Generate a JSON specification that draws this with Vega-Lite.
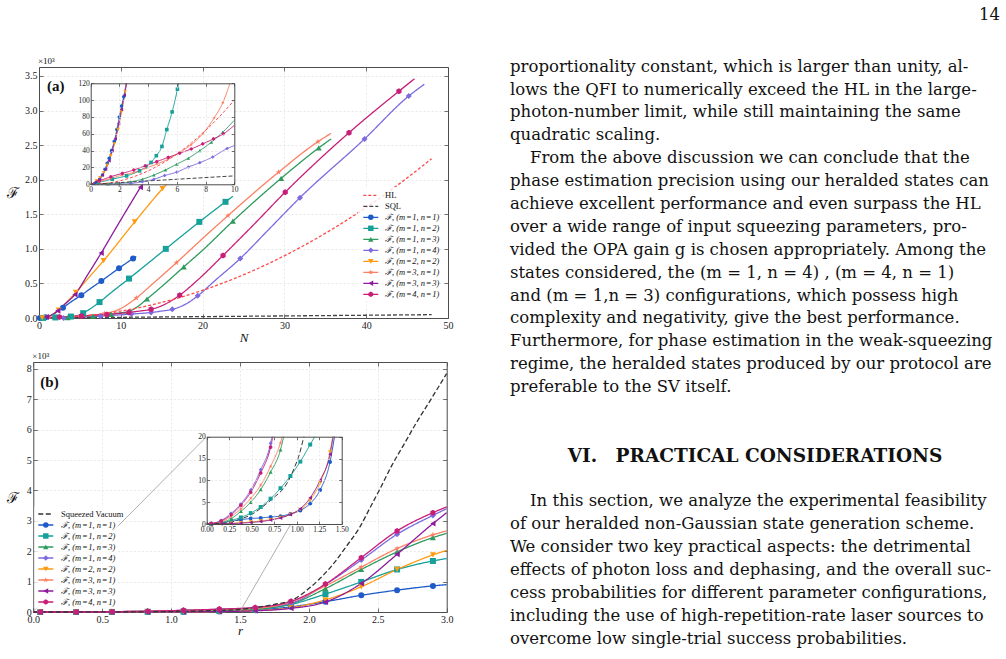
{
"$schema":"https://vega.github.io/schema/vega-lite/v6.json",
"width":1006,"height":659,"autosize":{"type":"none"},"padding":0,"background":"white",
"config":{"view":{"stroke":null},
"axis":{"labelFont":"Liberation Serif","labelFontSize":10,"labelColor":"#222","domainColor":"#4d4d4d","domainWidth":1,"tickColor":"#4d4d4d","tickWidth":0.8,"gridColor":"#e0e0e0","gridDash":[2,2],"gridWidth":0.7,"labelFlush":false,"labelOverlap":false,"labelBound":false,"titleFont":"Liberation Serif","titleFontWeight":"normal","titleColor":"#111"},
"text":{"font":"Liberation Serif","color":"#111"}},
"datasets":{
"aMain":[
{"s":"1,1","x":0,"y":0,"m":0},{"s":"1,1","x":0.1,"y":0.3,"m":1},{"s":"1,1","x":0.8,"y":11,"m":1},{"s":"1,1","x":1.5,"y":40,"m":0},{"s":"1,1","x":2.93,"y":150,"m":1},{"s":"1,1","x":4,"y":240,"m":0},{"s":"1,1","x":5.17,"y":330,"m":1},{"s":"1,1","x":6.4,"y":435,"m":0},{"s":"1,1","x":7.62,"y":535,"m":1},{"s":"1,1","x":9.78,"y":720,"m":1},{"s":"1,1","x":11.5,"y":860,"m":1},{"s":"1,1","x":11.9,"y":890,"m":0},
{"s":"1,2","x":0,"y":0,"m":0},{"s":"1,2","x":0.5,"y":1,"m":1},{"s":"1,2","x":2,"y":8,"m":1},{"s":"1,2","x":3.9,"y":21,"m":1},{"s":"1,2","x":4.6,"y":34,"m":0},{"s":"1,2","x":5.4,"y":70,"m":1},{"s":"1,2","x":6,"y":113,"m":0},{"s":"1,2","x":6.6,"y":160,"m":0},{"s":"1,2","x":7.4,"y":230,"m":1},{"s":"1,2","x":9,"y":385,"m":0},{"s":"1,2","x":11,"y":570,"m":1},{"s":"1,2","x":15.5,"y":1000,"m":1},{"s":"1,2","x":19.6,"y":1390,"m":1},{"s":"1,2","x":22.8,"y":1680,"m":1},{"s":"1,2","x":23.7,"y":1760,"m":0},
{"s":"1,3","x":0,"y":0,"m":0},{"s":"1,3","x":2,"y":1,"m":0},{"s":"1,3","x":3.5,"y":5,"m":1},{"s":"1,3","x":5,"y":14,"m":0},{"s":"1,3","x":6.6,"y":28,"m":1},{"s":"1,3","x":8,"y":44,"m":0},{"s":"1,3","x":8.8,"y":53,"m":1},{"s":"1,3","x":10,"y":76,"m":0},{"s":"1,3","x":10.9,"y":90,"m":1},{"s":"1,3","x":12,"y":160,"m":0},{"s":"1,3","x":13.2,"y":275,"m":1},{"s":"1,3","x":15,"y":455,"m":0},{"s":"1,3","x":17.7,"y":740,"m":1},{"s":"1,3","x":20,"y":980,"m":0},{"s":"1,3","x":23.7,"y":1400,"m":1},{"s":"1,3","x":29.6,"y":2020,"m":1},{"s":"1,3","x":34.2,"y":2460,"m":1},{"s":"1,3","x":35.7,"y":2590,"m":0},
{"s":"1,4","x":0,"y":0,"m":0},{"s":"1,4","x":3,"y":1,"m":1},{"s":"1,4","x":5,"y":10,"m":0},{"s":"1,4","x":7.5,"y":26,"m":1},{"s":"1,4","x":9.6,"y":43,"m":0},{"s":"1,4","x":11.3,"y":57,"m":1},{"s":"1,4","x":13.7,"y":80,"m":1},{"s":"1,4","x":15,"y":100,"m":0},{"s":"1,4","x":16.3,"y":125,"m":1},{"s":"1,4","x":18,"y":205,"m":0},{"s":"1,4","x":19.4,"y":320,"m":1},{"s":"1,4","x":21.5,"y":540,"m":0},{"s":"1,4","x":24.6,"y":860,"m":1},{"s":"1,4","x":28,"y":1270,"m":0},{"s":"1,4","x":31.9,"y":1740,"m":1},{"s":"1,4","x":39.8,"y":2590,"m":1},{"s":"1,4","x":45.2,"y":3210,"m":1},{"s":"1,4","x":47.1,"y":3380,"m":0},
{"s":"2,2","x":0,"y":0,"m":0},{"s":"2,2","x":0.4,"y":4,"m":1},{"s":"2,2","x":1.2,"y":23,"m":0},{"s":"2,2","x":2.4,"y":115,"m":1},{"s":"2,2","x":3.4,"y":230,"m":0},{"s":"2,2","x":4.5,"y":370,"m":1},{"s":"2,2","x":6.2,"y":600,"m":0},{"s":"2,2","x":7.9,"y":830,"m":1},{"s":"2,2","x":11.7,"y":1390,"m":1},{"s":"2,2","x":15.1,"y":1870,"m":1},{"s":"2,2","x":16.5,"y":2050,"m":0},
{"s":"3,1","x":0,"y":0,"m":0},{"s":"3,1","x":1,"y":5,"m":0},{"s":"3,1","x":2,"y":10,"m":0},{"s":"3,1","x":4,"y":20,"m":0},{"s":"3,1","x":5,"y":27,"m":1},{"s":"3,1","x":6,"y":36,"m":0},{"s":"3,1","x":8,"y":65,"m":1},{"s":"3,1","x":9.7,"y":120,"m":0},{"s":"3,1","x":11.9,"y":290,"m":1},{"s":"3,1","x":14,"y":505,"m":0},{"s":"3,1","x":16.8,"y":800,"m":1},{"s":"3,1","x":20,"y":1150,"m":0},{"s":"3,1","x":23.1,"y":1480,"m":1},{"s":"3,1","x":29.3,"y":2110,"m":1},{"s":"3,1","x":34.1,"y":2550,"m":1},{"s":"3,1","x":35.7,"y":2670,"m":0},
{"s":"3,3","x":0,"y":0,"m":0},{"s":"3,3","x":0.9,"y":13,"m":1},{"s":"3,3","x":1.6,"y":48,"m":0},{"s":"3,3","x":2.3,"y":105,"m":1},{"s":"3,3","x":3.2,"y":205,"m":0},{"s":"3,3","x":4.4,"y":340,"m":1},{"s":"3,3","x":6,"y":635,"m":0},{"s":"3,3","x":7.6,"y":940,"m":1},{"s":"3,3","x":10,"y":1420,"m":0},{"s":"3,3","x":12.4,"y":1890,"m":1},{"s":"3,3","x":13.5,"y":2100,"m":0},
{"s":"4,1","x":0,"y":0,"m":0},{"s":"4,1","x":1,"y":7,"m":0},{"s":"4,1","x":2.5,"y":15,"m":1},{"s":"4,1","x":5.2,"y":30,"m":1},{"s":"4,1","x":8.3,"y":52,"m":1},{"s":"4,1","x":11,"y":80,"m":1},{"s":"4,1","x":12.3,"y":100,"m":0},{"s":"4,1","x":13.7,"y":125,"m":1},{"s":"4,1","x":15.5,"y":205,"m":0},{"s":"4,1","x":17.2,"y":330,"m":1},{"s":"4,1","x":19.5,"y":560,"m":0},{"s":"4,1","x":22.5,"y":905,"m":1},{"s":"4,1","x":26,"y":1320,"m":0},{"s":"4,1","x":30.1,"y":1820,"m":1},{"s":"4,1","x":37.9,"y":2680,"m":1},{"s":"4,1","x":44,"y":3280,"m":1},{"s":"4,1","x":45.9,"y":3460,"m":0},
{"s":"HL","x":0,"y":0,"m":0},{"s":"HL","x":4,"y":16,"m":0},{"s":"HL","x":8,"y":64,"m":0},{"s":"HL","x":12,"y":144,"m":0},{"s":"HL","x":16,"y":256,"m":0},{"s":"HL","x":20,"y":400,"m":0},{"s":"HL","x":24,"y":576,"m":0},{"s":"HL","x":28,"y":784,"m":0},{"s":"HL","x":32,"y":1024,"m":0},{"s":"HL","x":36,"y":1296,"m":0},{"s":"HL","x":40,"y":1600,"m":0},{"s":"HL","x":44,"y":1936,"m":0},{"s":"HL","x":48,"y":2304,"m":0},
{"s":"SQL","x":0,"y":0,"m":0},{"s":"SQL","x":48,"y":48,"m":0}
],
"aIns":[
{"s":"1,1","x":0,"y":0,"m":0},{"s":"1,1","x":0.35,"y":1,"m":1},{"s":"1,1","x":0.5,"y":3,"m":1},{"s":"1,1","x":0.63,"y":6,"m":1},{"s":"1,1","x":0.82,"y":11,"m":1},{"s":"1,1","x":1,"y":18,"m":1},{"s":"1,1","x":1.15,"y":25,"m":1},{"s":"1,1","x":1.29,"y":31,"m":1},{"s":"1,1","x":1.45,"y":40,"m":1},{"s":"1,1","x":1.64,"y":51,"m":1},{"s":"1,1","x":1.82,"y":65,"m":1},{"s":"1,1","x":1.99,"y":80,"m":1},{"s":"1,1","x":2.15,"y":93,"m":1},{"s":"1,1","x":2.3,"y":104,"m":1},{"s":"1,1","x":2.47,"y":120,"m":0},
{"s":"1,2","x":0,"y":0,"m":0},{"s":"1,2","x":0.5,"y":2,"m":1},{"s":"1,2","x":1,"y":4,"m":0},{"s":"1,2","x":1.5,"y":6,"m":1},{"s":"1,2","x":2,"y":8,"m":0},{"s":"1,2","x":2.5,"y":10,"m":1},{"s":"1,2","x":3,"y":13,"m":0},{"s":"1,2","x":3.4,"y":16,"m":1},{"s":"1,2","x":3.85,"y":21,"m":1},{"s":"1,2","x":4.2,"y":26,"m":1},{"s":"1,2","x":4.57,"y":34,"m":1},{"s":"1,2","x":4.96,"y":45,"m":1},{"s":"1,2","x":5.3,"y":65,"m":1},{"s":"1,2","x":5.67,"y":86,"m":1},{"s":"1,2","x":6.04,"y":113,"m":1},{"s":"1,2","x":6.12,"y":120,"m":0},
{"s":"1,3","x":0,"y":0,"m":0},{"s":"1,3","x":1.2,"y":0.3,"m":1},{"s":"1,3","x":2,"y":1,"m":1},{"s":"1,3","x":2.8,"y":3,"m":1},{"s":"1,3","x":3.6,"y":6,"m":1},{"s":"1,3","x":4.4,"y":11,"m":1},{"s":"1,3","x":5.2,"y":17,"m":1},{"s":"1,3","x":6,"y":24,"m":1},{"s":"1,3","x":6.8,"y":31,"m":1},{"s":"1,3","x":7.6,"y":40,"m":1},{"s":"1,3","x":8.4,"y":50,"m":1},{"s":"1,3","x":9.2,"y":62,"m":1},{"s":"1,3","x":10,"y":76,"m":0},
{"s":"1,4","x":0,"y":0,"m":0},{"s":"1,4","x":2,"y":0,"m":1},{"s":"1,4","x":2.8,"y":1,"m":1},{"s":"1,4","x":3.6,"y":3,"m":1},{"s":"1,4","x":4.4,"y":6,"m":1},{"s":"1,4","x":5.15,"y":10.4,"m":1},{"s":"1,4","x":6,"y":14.5,"m":1},{"s":"1,4","x":6.8,"y":20.5,"m":1},{"s":"1,4","x":7.6,"y":25.7,"m":1},{"s":"1,4","x":8.5,"y":32.5,"m":1},{"s":"1,4","x":9.5,"y":42.5,"m":1},{"s":"1,4","x":10,"y":46,"m":0},
{"s":"2,2","x":0,"y":0,"m":0},{"s":"2,2","x":0.4,"y":4,"m":1},{"s":"2,2","x":0.65,"y":8,"m":1},{"s":"2,2","x":0.9,"y":14,"m":1},{"s":"2,2","x":1.15,"y":23,"m":1},{"s":"2,2","x":1.4,"y":34,"m":1},{"s":"2,2","x":1.65,"y":48,"m":1},{"s":"2,2","x":1.9,"y":65,"m":1},{"s":"2,2","x":2.15,"y":86,"m":1},{"s":"2,2","x":2.4,"y":110,"m":1},{"s":"2,2","x":2.48,"y":120,"m":0},
{"s":"3,1","x":0,"y":0,"m":0},{"s":"3,1","x":0.6,"y":3,"m":1},{"s":"3,1","x":1.4,"y":7,"m":1},{"s":"3,1","x":2.2,"y":11,"m":1},{"s":"3,1","x":3,"y":14,"m":1},{"s":"3,1","x":3.8,"y":19,"m":1},{"s":"3,1","x":4.6,"y":24,"m":1},{"s":"3,1","x":5.4,"y":30,"m":1},{"s":"3,1","x":6.2,"y":38,"m":1},{"s":"3,1","x":7,"y":47,"m":1},{"s":"3,1","x":7.8,"y":60,"m":1},{"s":"3,1","x":8.6,"y":79,"m":1},{"s":"3,1","x":9.2,"y":97,"m":1},{"s":"3,1","x":9.7,"y":120,"m":0},
{"s":"3,3","x":0,"y":0,"m":0},{"s":"3,3","x":0.35,"y":3,"m":1},{"s":"3,3","x":0.6,"y":6,"m":1},{"s":"3,3","x":0.82,"y":11,"m":1},{"s":"3,3","x":1.05,"y":18,"m":1},{"s":"3,3","x":1.29,"y":28,"m":1},{"s":"3,3","x":1.5,"y":40,"m":1},{"s":"3,3","x":1.72,"y":54,"m":1},{"s":"3,3","x":1.95,"y":72,"m":1},{"s":"3,3","x":2.15,"y":89,"m":1},{"s":"3,3","x":2.35,"y":106,"m":1},{"s":"3,3","x":2.5,"y":120,"m":0},
{"s":"4,1","x":0,"y":0,"m":0},{"s":"4,1","x":0.6,"y":4,"m":1},{"s":"4,1","x":1.4,"y":9,"m":1},{"s":"4,1","x":2.2,"y":13,"m":1},{"s":"4,1","x":3,"y":17,"m":1},{"s":"4,1","x":3.8,"y":22,"m":1},{"s":"4,1","x":4.6,"y":27,"m":1},{"s":"4,1","x":5.4,"y":32,"m":1},{"s":"4,1","x":6.2,"y":37,"m":1},{"s":"4,1","x":7,"y":42,"m":1},{"s":"4,1","x":7.8,"y":48,"m":1},{"s":"4,1","x":8.55,"y":54,"m":1},{"s":"4,1","x":9.25,"y":60,"m":1},{"s":"4,1","x":10,"y":70,"m":0},
{"s":"HL","x":0,"y":0,"m":0},{"s":"HL","x":1,"y":1,"m":0},{"s":"HL","x":2,"y":4,"m":0},{"s":"HL","x":3,"y":9,"m":0},{"s":"HL","x":4,"y":16,"m":0},{"s":"HL","x":5,"y":25,"m":0},{"s":"HL","x":6,"y":36,"m":0},{"s":"HL","x":7,"y":49,"m":0},{"s":"HL","x":8,"y":64,"m":0},{"s":"HL","x":9,"y":81,"m":0},{"s":"HL","x":10,"y":100,"m":0},
{"s":"SQL","x":0,"y":0,"m":0},{"s":"SQL","x":10,"y":10,"m":0}
],
"bMain":[
{"s":"1,1","x":0,"y":0,"m":0},{"s":"1,1","x":0.05,"y":0,"m":1},{"s":"1,1","x":0.31,"y":0.5,"m":1},{"s":"1,1","x":0.57,"y":1.2,"m":1},{"s":"1,1","x":0.83,"y":1.75,"m":1},{"s":"1,1","x":1.09,"y":3.6,"m":1},{"s":"1,1","x":1.35,"y":13,"m":1},{"s":"1,1","x":1.61,"y":60,"m":1},{"s":"1,1","x":1.87,"y":170,"m":1},{"s":"1,1","x":2.12,"y":340,"m":1},{"s":"1,1","x":2.38,"y":550,"m":1},{"s":"1,1","x":2.64,"y":720,"m":1},{"s":"1,1","x":2.9,"y":860,"m":1},{"s":"1,1","x":3,"y":900,"m":0},
{"s":"1,2","x":0,"y":0,"m":0},{"s":"1,2","x":0.05,"y":0.05,"m":1},{"s":"1,2","x":0.31,"y":0.9,"m":1},{"s":"1,2","x":0.57,"y":3.5,"m":1},{"s":"1,2","x":0.83,"y":8.3,"m":1},{"s":"1,2","x":1.09,"y":15.5,"m":1},{"s":"1,2","x":1.35,"y":35,"m":1},{"s":"1,2","x":1.61,"y":80,"m":1},{"s":"1,2","x":1.87,"y":250,"m":1},{"s":"1,2","x":2.12,"y":590,"m":1},{"s":"1,2","x":2.38,"y":990,"m":1},{"s":"1,2","x":2.64,"y":1400,"m":1},{"s":"1,2","x":2.9,"y":1680,"m":1},{"s":"1,2","x":3,"y":1760,"m":0},
{"s":"1,3","x":0,"y":0,"m":0},{"s":"1,3","x":0.05,"y":0.05,"m":1},{"s":"1,3","x":0.31,"y":1.8,"m":1},{"s":"1,3","x":0.57,"y":9,"m":1},{"s":"1,3","x":0.83,"y":22,"m":1},{"s":"1,3","x":1.09,"y":45,"m":1},{"s":"1,3","x":1.35,"y":75,"m":1},{"s":"1,3","x":1.61,"y":110,"m":1},{"s":"1,3","x":1.87,"y":270,"m":1},{"s":"1,3","x":2.12,"y":770,"m":1},{"s":"1,3","x":2.38,"y":1400,"m":1},{"s":"1,3","x":2.64,"y":1980,"m":1},{"s":"1,3","x":2.9,"y":2450,"m":1},{"s":"1,3","x":3,"y":2590,"m":0},
{"s":"1,4","x":0,"y":0,"m":0},{"s":"1,4","x":0.05,"y":0.1,"m":1},{"s":"1,4","x":0.31,"y":3.2,"m":1},{"s":"1,4","x":0.57,"y":12,"m":1},{"s":"1,4","x":0.83,"y":28,"m":1},{"s":"1,4","x":1.09,"y":55,"m":1},{"s":"1,4","x":1.35,"y":90,"m":1},{"s":"1,4","x":1.61,"y":140,"m":1},{"s":"1,4","x":1.87,"y":290,"m":1},{"s":"1,4","x":2.12,"y":910,"m":1},{"s":"1,4","x":2.38,"y":1710,"m":1},{"s":"1,4","x":2.64,"y":2560,"m":1},{"s":"1,4","x":2.9,"y":3180,"m":1},{"s":"1,4","x":3,"y":3400,"m":0},
{"s":"2,2","x":0,"y":0,"m":0},{"s":"2,2","x":0.05,"y":0,"m":1},{"s":"2,2","x":0.31,"y":0.2,"m":1},{"s":"2,2","x":0.57,"y":0.6,"m":1},{"s":"2,2","x":0.83,"y":1.6,"m":1},{"s":"2,2","x":1.09,"y":3.8,"m":1},{"s":"2,2","x":1.35,"y":14,"m":1},{"s":"2,2","x":1.61,"y":45,"m":1},{"s":"2,2","x":1.87,"y":140,"m":1},{"s":"2,2","x":2.12,"y":400,"m":1},{"s":"2,2","x":2.38,"y":830,"m":1},{"s":"2,2","x":2.64,"y":1400,"m":1},{"s":"2,2","x":2.9,"y":1880,"m":1},{"s":"2,2","x":3,"y":2030,"m":0},
{"s":"3,1","x":0,"y":0,"m":0},{"s":"3,1","x":0.05,"y":0.05,"m":1},{"s":"3,1","x":0.31,"y":2.3,"m":1},{"s":"3,1","x":0.57,"y":10.5,"m":1},{"s":"3,1","x":0.83,"y":27,"m":1},{"s":"3,1","x":1.09,"y":50,"m":1},{"s":"3,1","x":1.35,"y":80,"m":1},{"s":"3,1","x":1.61,"y":120,"m":1},{"s":"3,1","x":1.87,"y":330,"m":1},{"s":"3,1","x":2.12,"y":860,"m":1},{"s":"3,1","x":2.38,"y":1480,"m":1},{"s":"3,1","x":2.64,"y":2090,"m":1},{"s":"3,1","x":2.9,"y":2540,"m":1},{"s":"3,1","x":3,"y":2670,"m":0},
{"s":"3,3","x":0,"y":0,"m":0},{"s":"3,3","x":0.05,"y":0,"m":1},{"s":"3,3","x":0.31,"y":0.2,"m":1},{"s":"3,3","x":0.57,"y":0.5,"m":1},{"s":"3,3","x":0.83,"y":1.5,"m":1},{"s":"3,3","x":1.09,"y":4.2,"m":1},{"s":"3,3","x":1.35,"y":15,"m":1},{"s":"3,3","x":1.61,"y":40,"m":1},{"s":"3,3","x":1.87,"y":120,"m":1},{"s":"3,3","x":2.12,"y":330,"m":1},{"s":"3,3","x":2.38,"y":940,"m":1},{"s":"3,3","x":2.64,"y":1900,"m":1},{"s":"3,3","x":2.9,"y":2910,"m":1},{"s":"3,3","x":3,"y":3270,"m":0},
{"s":"4,1","x":0,"y":0,"m":0},{"s":"4,1","x":0.05,"y":0.1,"m":1},{"s":"4,1","x":0.31,"y":3,"m":1},{"s":"4,1","x":0.57,"y":11,"m":1},{"s":"4,1","x":0.83,"y":26,"m":1},{"s":"4,1","x":1.09,"y":55,"m":1},{"s":"4,1","x":1.35,"y":95,"m":1},{"s":"4,1","x":1.61,"y":150,"m":1},{"s":"4,1","x":1.87,"y":350,"m":1},{"s":"4,1","x":2.12,"y":920,"m":1},{"s":"4,1","x":2.38,"y":1790,"m":1},{"s":"4,1","x":2.64,"y":2670,"m":1},{"s":"4,1","x":2.9,"y":3270,"m":1},{"s":"4,1","x":3,"y":3460,"m":0},
{"s":"SV","x":0,"y":0,"m":0},{"s":"SV","x":0.5,"y":2.2,"m":0},{"s":"SV","x":0.75,"y":6,"m":0},{"s":"SV","x":1,"y":14,"m":0},{"s":"SV","x":1.25,"y":38,"m":0},{"s":"SV","x":1.5,"y":85,"m":0},{"s":"SV","x":1.6,"y":140,"m":0},{"s":"SV","x":1.75,"y":250,"m":0},{"s":"SV","x":1.89,"y":420,"m":0},{"s":"SV","x":1.98,"y":700,"m":0},{"s":"SV","x":2.08,"y":1100,"m":0},{"s":"SV","x":2.18,"y":1600,"m":0},{"s":"SV","x":2.27,"y":2150,"m":0},{"s":"SV","x":2.37,"y":2800,"m":0},{"s":"SV","x":2.44,"y":3400,"m":0},{"s":"SV","x":2.52,"y":4090,"m":0},{"s":"SV","x":2.6,"y":4810,"m":0},{"s":"SV","x":2.69,"y":5520,"m":0},{"s":"SV","x":2.78,"y":6230,"m":0},{"s":"SV","x":2.88,"y":6960,"m":0},{"s":"SV","x":2.95,"y":7480,"m":0},{"s":"SV","x":3,"y":7850,"m":0}
],
"bIns":[
{"s":"1,1","x":0,"y":0,"m":0},{"s":"1,1","x":0.05,"y":0.05,"m":1},{"s":"1,1","x":0.16,"y":0.3,"m":1},{"s":"1,1","x":0.27,"y":0.6,"m":1},{"s":"1,1","x":0.38,"y":1,"m":1},{"s":"1,1","x":0.49,"y":1.25,"m":1},{"s":"1,1","x":0.6,"y":1.4,"m":1},{"s":"1,1","x":0.71,"y":1.6,"m":1},{"s":"1,1","x":0.82,"y":1.8,"m":1},{"s":"1,1","x":0.93,"y":2.3,"m":1},{"s":"1,1","x":1.04,"y":3.1,"m":1},{"s":"1,1","x":1.15,"y":4.7,"m":1},{"s":"1,1","x":1.26,"y":7.8,"m":1},{"s":"1,1","x":1.37,"y":14.2,"m":1},{"s":"1,1","x":1.42,"y":20,"m":0},
{"s":"1,2","x":0,"y":0,"m":0},{"s":"1,2","x":0.05,"y":0.05,"m":1},{"s":"1,2","x":0.16,"y":0.25,"m":1},{"s":"1,2","x":0.27,"y":0.8,"m":1},{"s":"1,2","x":0.38,"y":1.5,"m":1},{"s":"1,2","x":0.49,"y":2.5,"m":1},{"s":"1,2","x":0.6,"y":3.9,"m":1},{"s":"1,2","x":0.71,"y":5.8,"m":1},{"s":"1,2","x":0.82,"y":8.2,"m":1},{"s":"1,2","x":0.93,"y":11,"m":1},{"s":"1,2","x":1.04,"y":14.3,"m":1},{"s":"1,2","x":1.15,"y":18.2,"m":1},{"s":"1,2","x":1.2,"y":20,"m":0},
{"s":"1,3","x":0,"y":0,"m":0},{"s":"1,3","x":0.05,"y":0.05,"m":1},{"s":"1,3","x":0.16,"y":0.3,"m":1},{"s":"1,3","x":0.27,"y":1.2,"m":1},{"s":"1,3","x":0.38,"y":2.9,"m":1},{"s":"1,3","x":0.49,"y":5,"m":1},{"s":"1,3","x":0.6,"y":7.9,"m":1},{"s":"1,3","x":0.71,"y":11.9,"m":1},{"s":"1,3","x":0.82,"y":17,"m":1},{"s":"1,3","x":0.855,"y":20,"m":0},
{"s":"1,4","x":0,"y":0,"m":0},{"s":"1,4","x":0.05,"y":0.1,"m":1},{"s":"1,4","x":0.16,"y":0.8,"m":1},{"s":"1,4","x":0.27,"y":2.4,"m":1},{"s":"1,4","x":0.38,"y":4.6,"m":1},{"s":"1,4","x":0.49,"y":7.8,"m":1},{"s":"1,4","x":0.6,"y":12.4,"m":1},{"s":"1,4","x":0.71,"y":18.5,"m":1},{"s":"1,4","x":0.725,"y":20,"m":0},
{"s":"2,2","x":0,"y":0,"m":0},{"s":"2,2","x":0.05,"y":0,"m":1},{"s":"2,2","x":0.16,"y":0.05,"m":1},{"s":"2,2","x":0.27,"y":0.15,"m":1},{"s":"2,2","x":0.38,"y":0.3,"m":1},{"s":"2,2","x":0.49,"y":0.45,"m":1},{"s":"2,2","x":0.6,"y":0.7,"m":1},{"s":"2,2","x":0.71,"y":1,"m":1},{"s":"2,2","x":0.82,"y":1.5,"m":1},{"s":"2,2","x":0.93,"y":2.2,"m":1},{"s":"2,2","x":1.04,"y":3.3,"m":1},{"s":"2,2","x":1.15,"y":5.5,"m":1},{"s":"2,2","x":1.26,"y":9.4,"m":1},{"s":"2,2","x":1.37,"y":16.5,"m":1},{"s":"2,2","x":1.4,"y":20,"m":0},
{"s":"3,1","x":0,"y":0,"m":0},{"s":"3,1","x":0.05,"y":0.05,"m":1},{"s":"3,1","x":0.16,"y":0.5,"m":1},{"s":"3,1","x":0.27,"y":1.7,"m":1},{"s":"3,1","x":0.38,"y":3.5,"m":1},{"s":"3,1","x":0.49,"y":5.9,"m":1},{"s":"3,1","x":0.6,"y":8.9,"m":1},{"s":"3,1","x":0.71,"y":13.2,"m":1},{"s":"3,1","x":0.82,"y":18.6,"m":1},{"s":"3,1","x":0.84,"y":20,"m":0},
{"s":"3,3","x":0,"y":0,"m":0},{"s":"3,3","x":0.05,"y":0,"m":1},{"s":"3,3","x":0.16,"y":0.05,"m":1},{"s":"3,3","x":0.27,"y":0.1,"m":1},{"s":"3,3","x":0.38,"y":0.2,"m":1},{"s":"3,3","x":0.49,"y":0.35,"m":1},{"s":"3,3","x":0.6,"y":0.55,"m":1},{"s":"3,3","x":0.71,"y":0.9,"m":1},{"s":"3,3","x":0.82,"y":1.4,"m":1},{"s":"3,3","x":0.93,"y":2.2,"m":1},{"s":"3,3","x":1.04,"y":3.5,"m":1},{"s":"3,3","x":1.15,"y":6,"m":1},{"s":"3,3","x":1.26,"y":10,"m":1},{"s":"3,3","x":1.37,"y":16,"m":1},{"s":"3,3","x":1.405,"y":20,"m":0},
{"s":"4,1","x":0,"y":0,"m":0},{"s":"4,1","x":0.05,"y":0.1,"m":1},{"s":"4,1","x":0.16,"y":0.7,"m":1},{"s":"4,1","x":0.27,"y":2.1,"m":1},{"s":"4,1","x":0.38,"y":4.3,"m":1},{"s":"4,1","x":0.49,"y":7.3,"m":1},{"s":"4,1","x":0.6,"y":11.7,"m":1},{"s":"4,1","x":0.71,"y":17.6,"m":1},{"s":"4,1","x":0.735,"y":20,"m":0},
{"s":"SV","x":0,"y":0,"m":0},{"s":"SV","x":0.2,"y":0.2,"m":0},{"s":"SV","x":0.36,"y":1,"m":0},{"s":"SV","x":0.5,"y":2.2,"m":0},{"s":"SV","x":0.65,"y":4.4,"m":0},{"s":"SV","x":0.76,"y":6.3,"m":0},{"s":"SV","x":0.87,"y":8.6,"m":0},{"s":"SV","x":0.93,"y":10.8,"m":0},{"s":"SV","x":0.98,"y":13.2,"m":0},{"s":"SV","x":1.03,"y":16,"m":0},{"s":"SV","x":1.07,"y":19.2,"m":0},{"s":"SV","x":1.08,"y":20,"m":0}
],
"legA":[
{"i":0,"s":"HL","t":"HL"},{"i":1,"s":"SQL","t":"SQL"},
{"i":2,"s":"1,1","t":"ℱ, (m\u200a=\u200a1, n\u200a=\u200a1)"},{"i":3,"s":"1,2","t":"ℱ, (m\u200a=\u200a1, n\u200a=\u200a2)"},{"i":4,"s":"1,3","t":"ℱ, (m\u200a=\u200a1, n\u200a=\u200a3)"},{"i":5,"s":"1,4","t":"ℱ, (m\u200a=\u200a1, n\u200a=\u200a4)"},
{"i":6,"s":"2,2","t":"ℱ, (m\u200a=\u200a2, n\u200a=\u200a2)"},{"i":7,"s":"3,1","t":"ℱ, (m\u200a=\u200a3, n\u200a=\u200a1)"},{"i":8,"s":"3,3","t":"ℱ, (m\u200a=\u200a3, n\u200a=\u200a3)"},{"i":9,"s":"4,1","t":"ℱ, (m\u200a=\u200a4, n\u200a=\u200a1)"}
],
"legB":[
{"i":0,"s":"SV","t":"Squeezed Vacuum"},
{"i":1,"s":"1,1","t":"ℱ, (m\u200a=\u200a1, n\u200a=\u200a1)"},{"i":2,"s":"1,2","t":"ℱ, (m\u200a=\u200a1, n\u200a=\u200a2)"},{"i":3,"s":"1,3","t":"ℱ, (m\u200a=\u200a1, n\u200a=\u200a3)"},{"i":4,"s":"1,4","t":"ℱ, (m\u200a=\u200a1, n\u200a=\u200a4)"},
{"i":5,"s":"2,2","t":"ℱ, (m\u200a=\u200a2, n\u200a=\u200a2)"},{"i":6,"s":"3,1","t":"ℱ, (m\u200a=\u200a3, n\u200a=\u200a1)"},{"i":7,"s":"3,3","t":"ℱ, (m\u200a=\u200a3, n\u200a=\u200a3)"},{"i":8,"s":"4,1","t":"ℱ, (m\u200a=\u200a4, n\u200a=\u200a1)"}
],
"txt":[
{"n":1,"t":"proportionality constant, which is larger than unity, al-"},
{"n":2,"t":"lows the QFI to numerically exceed the HL in the large-"},
{"n":3,"t":"photon-number limit, while still maintaining the same"},
{"n":4,"t":"quadratic scaling."},
{"n":5,"t":"From the above discussion we can conclude that the"},
{"n":6,"t":"phase estimation precision using our heralded states can"},
{"n":7,"t":"achieve excellent performance and even surpass the HL"},
{"n":8,"t":"over a wide range of input squeezing parameters, pro-"},
{"n":9,"t":"vided the OPA gain g is chosen appropriately. Among the"},
{"n":10,"t":"states considered, the (m = 1, n = 4) , (m = 4, n = 1)"},
{"n":11,"t":"and (m = 1,n = 3) configurations, which possess high"},
{"n":12,"t":"complexity and negativity, give the best performance."},
{"n":13,"t":"Furthermore, for phase estimation in the weak-squeezing"},
{"n":14,"t":"regime, the heralded states produced by our protocol are"},
{"n":15,"t":"preferable to the SV itself."},
{"n":20,"t":"In this section, we analyze the experimental feasibility"},
{"n":21,"t":"of our heralded non-Gaussian state generation scheme."},
{"n":22,"t":"We consider two key practical aspects: the detrimental"},
{"n":23,"t":"effects of photon loss and dephasing, and the overall suc-"},
{"n":24,"t":"cess probabilities for different parameter configurations,"},
{"n":25,"t":"including the use of high-repetition-rate laser sources to"},
{"n":26,"t":"overcome low single-trial success probabilities."}
],
"conn":[{"x":0,"y":20,"x2":1.258,"y2":5771},{"x":1.5,"y":20,"x2":2.238,"y2":5771}]
},
"resolve":{"scale":{"x":"independent","y":"independent"}},
"layer":[
{
"data":{"name":"aMain"},
"resolve":{"axis":{"x":"independent","y":"independent"}},
"layer":[
{"mark":{"type":"line","interpolate":"monotone","strokeWidth":1.3},
"encoding":{
"x":{"field":"x","type":"quantitative","scale":{"domain":[0,50],"range":[39,448],"nice":false,"zero":false},
"axis":{"orient":"bottom","offset":-341,"values":[0,10,20,30,40,50],"tickSize":-4,"labelPadding":6,"grid":false,"title":"N","titleX":243.5,"titleY":19,"titleBaseline":"middle","titleFontStyle":"italic","titleFontSize":13}},
"y":{"field":"y","type":"quantitative","scale":{"domain":[0,3630],"range":[318,67],"nice":false,"zero":false},
"axis":{"orient":"left","offset":-39,"values":[0,500,1000,1500,2000,2500,3000,3500],"labelExpr":"format(datum.value/1000,'.1f')","tickSize":-4,"labelPadding":6,"grid":true,"title":"ℱ","titleAngle":0,"titleX":-27,"titleY":192,"titleBaseline":"middle","titleAlign":"center","titleFont":"DejaVu Serif","titleFontSize":15}},
"color":{"field":"s","type":"nominal","legend":null,"scale":{"domain":["1,1","1,2","1,3","1,4","2,2","3,1","3,3","4,1","HL","SQL","SV"],"range":["#1e5ac8","#15a09a","#2e9a5e","#7b6be0","#ff9a10","#fb7f62","#8e1a9c","#c81e78","#ff4848","#444444","#333333"]}},
"strokeDash":{"field":"s","type":"nominal","legend":null,"scale":{"domain":["1,1","1,2","1,3","1,4","2,2","3,1","3,3","4,1","HL","SQL","SV"],"range":[[1,0],[1,0],[1,0],[1,0],[1,0],[1,0],[1,0],[1,0],[3,2],[4,2],[5,2.5]]}}}},
{"transform":[{"filter":"datum.m == 1"}],
"mark":{"type":"point","filled":true,"opacity":1,"size":36},
"encoding":{
"x":{"field":"x","type":"quantitative","scale":{"domain":[0,50],"range":[39,448],"nice":false,"zero":false},
"axis":{"orient":"top","offset":-67,"values":[0,10,20,30,40,50],"labels":false,"tickSize":-4,"grid":true,"title":null}},
"y":{"field":"y","type":"quantitative","scale":{"domain":[0,3630],"range":[318,67],"nice":false,"zero":false},
"axis":{"orient":"right","offset":-558,"values":[0,500,1000,1500,2000,2500,3000,3500],"labels":false,"tickSize":-4,"grid":false,"title":null}},
"color":{"field":"s","type":"nominal","legend":null,"scale":{"domain":["1,1","1,2","1,3","1,4","2,2","3,1","3,3","4,1","HL","SQL","SV"],"range":["#1e5ac8","#15a09a","#2e9a5e","#7b6be0","#ff9a10","#fb7f62","#8e1a9c","#c81e78","#ff4848","#444444","#333333"]}},
"shape":{"field":"s","type":"nominal","legend":null,"scale":{"domain":["1,1","1,2","1,3","1,4","2,2","3,1","3,3","4,1"],"range":["circle","square","triangle-up","diamond","triangle-down","M0,-1L0.235,-0.324L0.951,-0.309L0.38,0.124L0.588,0.809L0,0.4L-0.588,0.809L-0.38,0.124L-0.951,-0.309L-0.235,-0.324Z","triangle-left","M0,-1L0.866,-0.5L0.866,0.5L0,1L-0.866,0.5L-0.866,-0.5Z"]}}}},
{"data":{"values":[{"t":"×10³"}]},
"mark":{"type":"text","align":"left","baseline":"middle","fontSize":9,"dx":-1,"dy":-6},
"encoding":{"x":{"datum":0,"type":"quantitative","axis":null},"y":{"datum":3630,"type":"quantitative","axis":null},"text":{"field":"t"}}},
{"data":{"values":[{"t":"(a)"}]},
"mark":{"type":"text","align":"left","baseline":"middle","fontSize":15,"fontWeight":"bold","dx":8,"dy":19},
"encoding":{"x":{"datum":0,"type":"quantitative","axis":null},"y":{"datum":3630,"type":"quantitative","axis":null},"text":{"field":"t"}}}
]
},
{
"data":{"name":"legA"},
"layer":[
{"data":{"values":[{}]},"mark":{"type":"rect","fill":"white","opacity":0.8},
"encoding":{"x":{"datum":-0.35,"type":"quantitative","scale":{"domain":[0,1],"range":[363.3,378.3],"nice":false,"zero":false},"axis":null},"x2":{"datum":4.9},
"y":{"datum":-0.75,"type":"quantitative","scale":{"domain":[0,9],"range":[195.3,294.3],"nice":false,"zero":false},"axis":null},"y2":{"datum":9.6}}},
{"mark":{"type":"rule","strokeWidth":1.3},
"encoding":{"x":{"datum":0,"type":"quantitative","axis":null},"x2":{"datum":1},"y":{"field":"i","type":"quantitative","axis":null},
"color":{"field":"s","type":"nominal","legend":null,"scale":{"domain":["1,1","1,2","1,3","1,4","2,2","3,1","3,3","4,1","HL","SQL","SV"],"range":["#1e5ac8","#15a09a","#2e9a5e","#7b6be0","#ff9a10","#fb7f62","#8e1a9c","#c81e78","#ff4848","#444444","#333333"]}},
"strokeDash":{"field":"s","type":"nominal","legend":null,"scale":{"domain":["1,1","1,2","1,3","1,4","2,2","3,1","3,3","4,1","HL","SQL","SV"],"range":[[1,0],[1,0],[1,0],[1,0],[1,0],[1,0],[1,0],[1,0],[3,2],[4,2],[5,2.5]]}}}},
{"transform":[{"filter":"indexof(datum.s, ',') >= 0"}],"mark":{"type":"point","filled":true,"opacity":1,"size":30},
"encoding":{"x":{"datum":0.5,"type":"quantitative","axis":null},"y":{"field":"i","type":"quantitative","axis":null},
"color":{"field":"s","type":"nominal","legend":null,"scale":{"domain":["1,1","1,2","1,3","1,4","2,2","3,1","3,3","4,1","HL","SQL","SV"],"range":["#1e5ac8","#15a09a","#2e9a5e","#7b6be0","#ff9a10","#fb7f62","#8e1a9c","#c81e78","#ff4848","#444444","#333333"]}},
"shape":{"field":"s","type":"nominal","legend":null,"scale":{"domain":["1,1","1,2","1,3","1,4","2,2","3,1","3,3","4,1"],"range":["circle","square","triangle-up","diamond","triangle-down","M0,-1L0.235,-0.324L0.951,-0.309L0.38,0.124L0.588,0.809L0,0.4L-0.588,0.809L-0.38,0.124L-0.951,-0.309L-0.235,-0.324Z","triangle-left","M0,-1L0.866,-0.5L0.866,0.5L0,1L-0.866,0.5L-0.866,-0.5Z"]}}}},
{"transform":[{"filter":"indexof(datum.s, ',') < 0"}],"mark":{"type":"text","align":"left","baseline":"middle","dx":6.7,"fontSize":8.5},
"encoding":{"x":{"datum":1,"type":"quantitative","axis":null},"y":{"field":"i","type":"quantitative","axis":null},"text":{"field":"t"}}},
{"transform":[{"filter":"indexof(datum.s, ',') >= 0"}],"mark":{"type":"text","align":"left","baseline":"middle","dx":6.7,"fontSize":8.5,"fontStyle":"italic"},
"encoding":{"x":{"datum":1,"type":"quantitative","axis":null},"y":{"field":"i","type":"quantitative","axis":null},"text":{"field":"t"}}}
]
},
{
"data":{"name":"aIns"},
"resolve":{"axis":{"x":"independent","y":"independent"}},
"layer":[
{"data":{"values":[{}]},"mark":{"type":"rect","fill":"white"},
"encoding":{"x":{"datum":0,"type":"quantitative","scale":{"domain":[0,10],"range":[90.7,234.3],"nice":false,"zero":false},"axis":null},"x2":{"datum":10},
"y":{"datum":0,"type":"quantitative","scale":{"domain":[0,120],"range":[184.3,83.3],"nice":false,"zero":false},"axis":null},"y2":{"datum":120}}},
{"mark":{"type":"line","interpolate":"monotone","strokeWidth":1},
"encoding":{
"x":{"field":"x","type":"quantitative","scale":{"domain":[0,10],"range":[90.7,234.3],"nice":false,"zero":false},
"axis":{"orient":"bottom","offset":-474.7,"values":[0,2,4,6,8,10],"tickSize":-3,"labelPadding":4.5,"labelFontSize":7.5,"grid":false,"title":null,"zindex":1}},
"y":{"field":"y","type":"quantitative","scale":{"domain":[0,120],"range":[184.3,83.3],"nice":false,"zero":false},
"axis":{"orient":"left","offset":-90.7,"values":[0,20,40,60,80,100,120],"tickSize":-3,"labelPadding":4.5,"labelFontSize":7.5,"grid":true,"title":null,"zindex":1}},
"color":{"field":"s","type":"nominal","legend":null,"scale":{"domain":["1,1","1,2","1,3","1,4","2,2","3,1","3,3","4,1","HL","SQL","SV"],"range":["#1e5ac8","#15a09a","#2e9a5e","#7b6be0","#ff9a10","#fb7f62","#8e1a9c","#c81e78","#ff4848","#444444","#333333"]}},
"strokeDash":{"field":"s","type":"nominal","legend":null,"scale":{"domain":["1,1","1,2","1,3","1,4","2,2","3,1","3,3","4,1","HL","SQL","SV"],"range":[[1,0],[1,0],[1,0],[1,0],[1,0],[1,0],[1,0],[1,0],[3,2],[4,2],[5,2.5]]}}}},
{"transform":[{"filter":"datum.m == 1"}],
"mark":{"type":"point","filled":true,"opacity":1,"size":13},
"encoding":{
"x":{"field":"x","type":"quantitative","scale":{"domain":[0,10],"range":[90.7,234.3],"nice":false,"zero":false},
"axis":{"orient":"top","offset":-83.3,"values":[0,2,4,6,8,10],"labels":false,"tickSize":-3,"grid":true,"title":null,"zindex":1}},
"y":{"field":"y","type":"quantitative","scale":{"domain":[0,120],"range":[184.3,83.3],"nice":false,"zero":false},
"axis":{"orient":"right","offset":-771.7,"values":[0,20,40,60,80,100,120],"labels":false,"tickSize":-3,"grid":false,"title":null,"zindex":1}},
"color":{"field":"s","type":"nominal","legend":null,"scale":{"domain":["1,1","1,2","1,3","1,4","2,2","3,1","3,3","4,1","HL","SQL","SV"],"range":["#1e5ac8","#15a09a","#2e9a5e","#7b6be0","#ff9a10","#fb7f62","#8e1a9c","#c81e78","#ff4848","#444444","#333333"]}},
"shape":{"field":"s","type":"nominal","legend":null,"scale":{"domain":["1,1","1,2","1,3","1,4","2,2","3,1","3,3","4,1"],"range":["circle","square","triangle-up","diamond","triangle-down","M0,-1L0.235,-0.324L0.951,-0.309L0.38,0.124L0.588,0.809L0,0.4L-0.588,0.809L-0.38,0.124L-0.951,-0.309L-0.235,-0.324Z","triangle-left","M0,-1L0.866,-0.5L0.866,0.5L0,1L-0.866,0.5L-0.866,-0.5Z"]}}}}
]
},
{
"data":{"name":"bMain"},
"resolve":{"axis":{"x":"independent","y":"independent"}},
"layer":[
{"mark":{"type":"line","interpolate":"monotone","strokeWidth":1.3},
"encoding":{
"x":{"field":"x","type":"quantitative","scale":{"domain":[0,3],"range":[33.3,446.7],"nice":false,"zero":false},
"axis":{"orient":"bottom","offset":-47,"values":[0,0.5,1,1.5,2,2.5,3],"format":".1f","tickSize":-4,"labelPadding":6,"grid":false,"title":"r","titleX":240,"titleY":18,"titleBaseline":"middle","titleFontStyle":"italic","titleFontSize":13}},
"y":{"field":"y","type":"quantitative","scale":{"domain":[0,8230],"range":[612,362],"nice":false,"zero":false},
"axis":{"orient":"left","offset":-33.3,"values":[0,1000,2000,3000,4000,5000,6000,7000,8000],"labelExpr":"format(datum.value/1000,'d')","tickSize":-4,"labelPadding":6,"grid":true,"title":"ℱ","titleAngle":0,"titleX":-21,"titleY":497,"titleBaseline":"middle","titleAlign":"center","titleFont":"DejaVu Serif","titleFontSize":15}},
"color":{"field":"s","type":"nominal","legend":null,"scale":{"domain":["1,1","1,2","1,3","1,4","2,2","3,1","3,3","4,1","HL","SQL","SV"],"range":["#1e5ac8","#15a09a","#2e9a5e","#7b6be0","#ff9a10","#fb7f62","#8e1a9c","#c81e78","#ff4848","#444444","#333333"]}},
"strokeDash":{"field":"s","type":"nominal","legend":null,"scale":{"domain":["1,1","1,2","1,3","1,4","2,2","3,1","3,3","4,1","HL","SQL","SV"],"range":[[1,0],[1,0],[1,0],[1,0],[1,0],[1,0],[1,0],[1,0],[3,2],[4,2],[5,2.5]]}}}},
{"transform":[{"filter":"datum.m == 1"}],
"mark":{"type":"point","filled":true,"opacity":1,"size":36},
"encoding":{
"x":{"field":"x","type":"quantitative","scale":{"domain":[0,3],"range":[33.3,446.7],"nice":false,"zero":false},
"axis":{"orient":"top","offset":-362,"values":[0,0.5,1,1.5,2,2.5,3],"labels":false,"tickSize":-4,"grid":true,"title":null}},
"y":{"field":"y","type":"quantitative","scale":{"domain":[0,8230],"range":[612,362],"nice":false,"zero":false},
"axis":{"orient":"right","offset":-559.3,"values":[0,1000,2000,3000,4000,5000,6000,7000,8000],"labels":false,"tickSize":-4,"grid":false,"title":null}},
"color":{"field":"s","type":"nominal","legend":null,"scale":{"domain":["1,1","1,2","1,3","1,4","2,2","3,1","3,3","4,1","HL","SQL","SV"],"range":["#1e5ac8","#15a09a","#2e9a5e","#7b6be0","#ff9a10","#fb7f62","#8e1a9c","#c81e78","#ff4848","#444444","#333333"]}},
"shape":{"field":"s","type":"nominal","legend":null,"scale":{"domain":["1,1","1,2","1,3","1,4","2,2","3,1","3,3","4,1"],"range":["circle","square","triangle-up","diamond","triangle-down","M0,-1L0.235,-0.324L0.951,-0.309L0.38,0.124L0.588,0.809L0,0.4L-0.588,0.809L-0.38,0.124L-0.951,-0.309L-0.235,-0.324Z","triangle-left","M0,-1L0.866,-0.5L0.866,0.5L0,1L-0.866,0.5L-0.866,-0.5Z"]}}}},
{"data":{"name":"conn"},"mark":{"type":"rule","color":"#9a9a9a","strokeWidth":0.8},
"encoding":{"x":{"field":"x","type":"quantitative","axis":null},"x2":{"field":"x2"},"y":{"field":"y","type":"quantitative","axis":null},"y2":{"field":"y2"}}},
{"data":{"values":[{"t":"×10³"}]},
"mark":{"type":"text","align":"left","baseline":"middle","fontSize":9,"dx":-1,"dy":-6},
"encoding":{"x":{"datum":0,"type":"quantitative","axis":null},"y":{"datum":8230,"type":"quantitative","axis":null},"text":{"field":"t"}}},
{"data":{"values":[{"t":"(b)"}]},
"mark":{"type":"text","align":"left","baseline":"middle","fontSize":15,"fontWeight":"bold","dx":7,"dy":20},
"encoding":{"x":{"datum":0,"type":"quantitative","axis":null},"y":{"datum":8230,"type":"quantitative","axis":null},"text":{"field":"t"}}}
]
},
{
"data":{"name":"bIns"},
"resolve":{"axis":{"x":"independent","y":"independent"}},
"layer":[
{"data":{"values":[{}]},"mark":{"type":"rect","fill":"white"},
"encoding":{"x":{"datum":0,"type":"quantitative","scale":{"domain":[0,1.5],"range":[206.7,341.7],"nice":false,"zero":false},"axis":null},"x2":{"datum":1.5},
"y":{"datum":0,"type":"quantitative","scale":{"domain":[0,20],"range":[524,436.7],"nice":false,"zero":false},"axis":null},"y2":{"datum":20}}},
{"mark":{"type":"line","interpolate":"monotone","strokeWidth":1},
"encoding":{
"x":{"field":"x","type":"quantitative","scale":{"domain":[0,1.5],"range":[206.7,341.7],"nice":false,"zero":false},
"axis":{"orient":"bottom","offset":-135,"values":[0,0.25,0.5,0.75,1,1.25,1.5],"format":".2f","tickSize":-3,"labelPadding":4.5,"labelFontSize":7.5,"grid":false,"title":null,"zindex":1}},
"y":{"field":"y","type":"quantitative","scale":{"domain":[0,20],"range":[524,436.7],"nice":false,"zero":false},
"axis":{"orient":"left","offset":-206.7,"values":[0,5,10,15,20],"tickSize":-3,"labelPadding":4.5,"labelFontSize":7.5,"grid":true,"title":null,"zindex":1}},
"color":{"field":"s","type":"nominal","legend":null,"scale":{"domain":["1,1","1,2","1,3","1,4","2,2","3,1","3,3","4,1","HL","SQL","SV"],"range":["#1e5ac8","#15a09a","#2e9a5e","#7b6be0","#ff9a10","#fb7f62","#8e1a9c","#c81e78","#ff4848","#444444","#333333"]}},
"strokeDash":{"field":"s","type":"nominal","legend":null,"scale":{"domain":["1,1","1,2","1,3","1,4","2,2","3,1","3,3","4,1","HL","SQL","SV"],"range":[[1,0],[1,0],[1,0],[1,0],[1,0],[1,0],[1,0],[1,0],[3,2],[4,2],[5,2.5]]}}}},
{"transform":[{"filter":"datum.m == 1"}],
"mark":{"type":"point","filled":true,"opacity":1,"size":16},
"encoding":{
"x":{"field":"x","type":"quantitative","scale":{"domain":[0,1.5],"range":[206.7,341.7],"nice":false,"zero":false},
"axis":{"orient":"top","offset":-436.7,"values":[0,0.25,0.5,0.75,1,1.25,1.5],"labels":false,"tickSize":-3,"grid":true,"title":null,"zindex":1}},
"y":{"field":"y","type":"quantitative","scale":{"domain":[0,20],"range":[524,436.7],"nice":false,"zero":false},
"axis":{"orient":"right","offset":-664.3,"values":[0,5,10,15,20],"labels":false,"tickSize":-3,"grid":false,"title":null,"zindex":1}},
"color":{"field":"s","type":"nominal","legend":null,"scale":{"domain":["1,1","1,2","1,3","1,4","2,2","3,1","3,3","4,1","HL","SQL","SV"],"range":["#1e5ac8","#15a09a","#2e9a5e","#7b6be0","#ff9a10","#fb7f62","#8e1a9c","#c81e78","#ff4848","#444444","#333333"]}},
"shape":{"field":"s","type":"nominal","legend":null,"scale":{"domain":["1,1","1,2","1,3","1,4","2,2","3,1","3,3","4,1"],"range":["circle","square","triangle-up","diamond","triangle-down","M0,-1L0.235,-0.324L0.951,-0.309L0.38,0.124L0.588,0.809L0,0.4L-0.588,0.809L-0.38,0.124L-0.951,-0.309L-0.235,-0.324Z","triangle-left","M0,-1L0.866,-0.5L0.866,0.5L0,1L-0.866,0.5L-0.866,-0.5Z"]}}}}
]
},
{
"data":{"name":"legB"},
"layer":[
{"data":{"values":[{}]},"mark":{"type":"rect","fill":"white","opacity":0.8},
"encoding":{"x":{"datum":-0.27,"type":"quantitative","scale":{"domain":[0,1],"range":[38.3,53.3],"nice":false,"zero":false},"axis":null},"x2":{"datum":5.3},
"y":{"datum":-0.65,"type":"quantitative","scale":{"domain":[0,8],"range":[514,602],"nice":false,"zero":false},"axis":null},"y2":{"datum":8.6}}},
{"mark":{"type":"rule","strokeWidth":1.3},
"encoding":{"x":{"datum":0,"type":"quantitative","axis":null},"x2":{"datum":1},"y":{"field":"i","type":"quantitative","axis":null},
"color":{"field":"s","type":"nominal","legend":null,"scale":{"domain":["1,1","1,2","1,3","1,4","2,2","3,1","3,3","4,1","HL","SQL","SV"],"range":["#1e5ac8","#15a09a","#2e9a5e","#7b6be0","#ff9a10","#fb7f62","#8e1a9c","#c81e78","#ff4848","#444444","#333333"]}},
"strokeDash":{"field":"s","type":"nominal","legend":null,"scale":{"domain":["1,1","1,2","1,3","1,4","2,2","3,1","3,3","4,1","HL","SQL","SV"],"range":[[1,0],[1,0],[1,0],[1,0],[1,0],[1,0],[1,0],[1,0],[3,2],[4,2],[5,2.5]]}}}},
{"transform":[{"filter":"indexof(datum.s, ',') >= 0"}],"mark":{"type":"point","filled":true,"opacity":1,"size":30},
"encoding":{"x":{"datum":0.5,"type":"quantitative","axis":null},"y":{"field":"i","type":"quantitative","axis":null},
"color":{"field":"s","type":"nominal","legend":null,"scale":{"domain":["1,1","1,2","1,3","1,4","2,2","3,1","3,3","4,1","HL","SQL","SV"],"range":["#1e5ac8","#15a09a","#2e9a5e","#7b6be0","#ff9a10","#fb7f62","#8e1a9c","#c81e78","#ff4848","#444444","#333333"]}},
"shape":{"field":"s","type":"nominal","legend":null,"scale":{"domain":["1,1","1,2","1,3","1,4","2,2","3,1","3,3","4,1"],"range":["circle","square","triangle-up","diamond","triangle-down","M0,-1L0.235,-0.324L0.951,-0.309L0.38,0.124L0.588,0.809L0,0.4L-0.588,0.809L-0.38,0.124L-0.951,-0.309L-0.235,-0.324Z","triangle-left","M0,-1L0.866,-0.5L0.866,0.5L0,1L-0.866,0.5L-0.866,-0.5Z"]}}}},
{"transform":[{"filter":"indexof(datum.s, ',') < 0"}],"mark":{"type":"text","align":"left","baseline":"middle","dx":7.7,"fontSize":8.5},
"encoding":{"x":{"datum":1,"type":"quantitative","axis":null},"y":{"field":"i","type":"quantitative","axis":null},"text":{"field":"t"}}},
{"transform":[{"filter":"indexof(datum.s, ',') >= 0"}],"mark":{"type":"text","align":"left","baseline":"middle","dx":7.7,"fontSize":8.5,"fontStyle":"italic"},
"encoding":{"x":{"datum":1,"type":"quantitative","axis":null},"y":{"field":"i","type":"quantitative","axis":null},"text":{"field":"t"}}}
]
},
{
"data":{"name":"txt"},
"layer":[
{"transform":[{"filter":"datum.n != 5 && datum.n != 20"}],
"mark":{"type":"text","align":"left","baseline":"middle","font":"DejaVu Serif","fontSize":16.5,"color":"#111"},
"encoding":{"x":{"datum":0,"type":"quantitative","scale":{"domain":[0,1],"range":[510,1000],"nice":false,"zero":false},"axis":null},
"y":{"field":"n","type":"quantitative","scale":{"domain":[1,26],"range":[66.7,638.7],"nice":false,"zero":false},"axis":null},"text":{"field":"t"}}},
{"transform":[{"filter":"datum.n == 5 || datum.n == 20"}],
"mark":{"type":"text","align":"left","baseline":"middle","font":"DejaVu Serif","fontSize":16.5,"color":"#111","dx":20},
"encoding":{"x":{"datum":0,"type":"quantitative","axis":null},"y":{"field":"n","type":"quantitative","axis":null},"text":{"field":"t"}}},
{"data":{"values":[{"n":18,"t":"VI.\u2003PRACTICAL CONSIDERATIONS"}]},
"mark":{"type":"text","align":"center","baseline":"middle","font":"DejaVu Serif","fontSize":18.5,"fontWeight":"bold","color":"#111"},
"encoding":{"x":{"datum":0.5,"type":"quantitative","axis":null},"y":{"field":"n","type":"quantitative","axis":null},"text":{"field":"t"}}}
]
},
{
"data":{"values":[{"t":"14"}]},
"mark":{"type":"text","align":"right","baseline":"middle","font":"DejaVu Serif","fontSize":16.5,"color":"#111"},
"encoding":{"x":{"datum":1,"type":"quantitative","scale":{"domain":[0,1],"range":[510,1000],"nice":false,"zero":false},"axis":null},
"y":{"datum":0,"type":"quantitative","scale":{"domain":[0,1],"range":[15,40],"nice":false,"zero":false},"axis":null},"text":{"field":"t"}}
}
]
}
